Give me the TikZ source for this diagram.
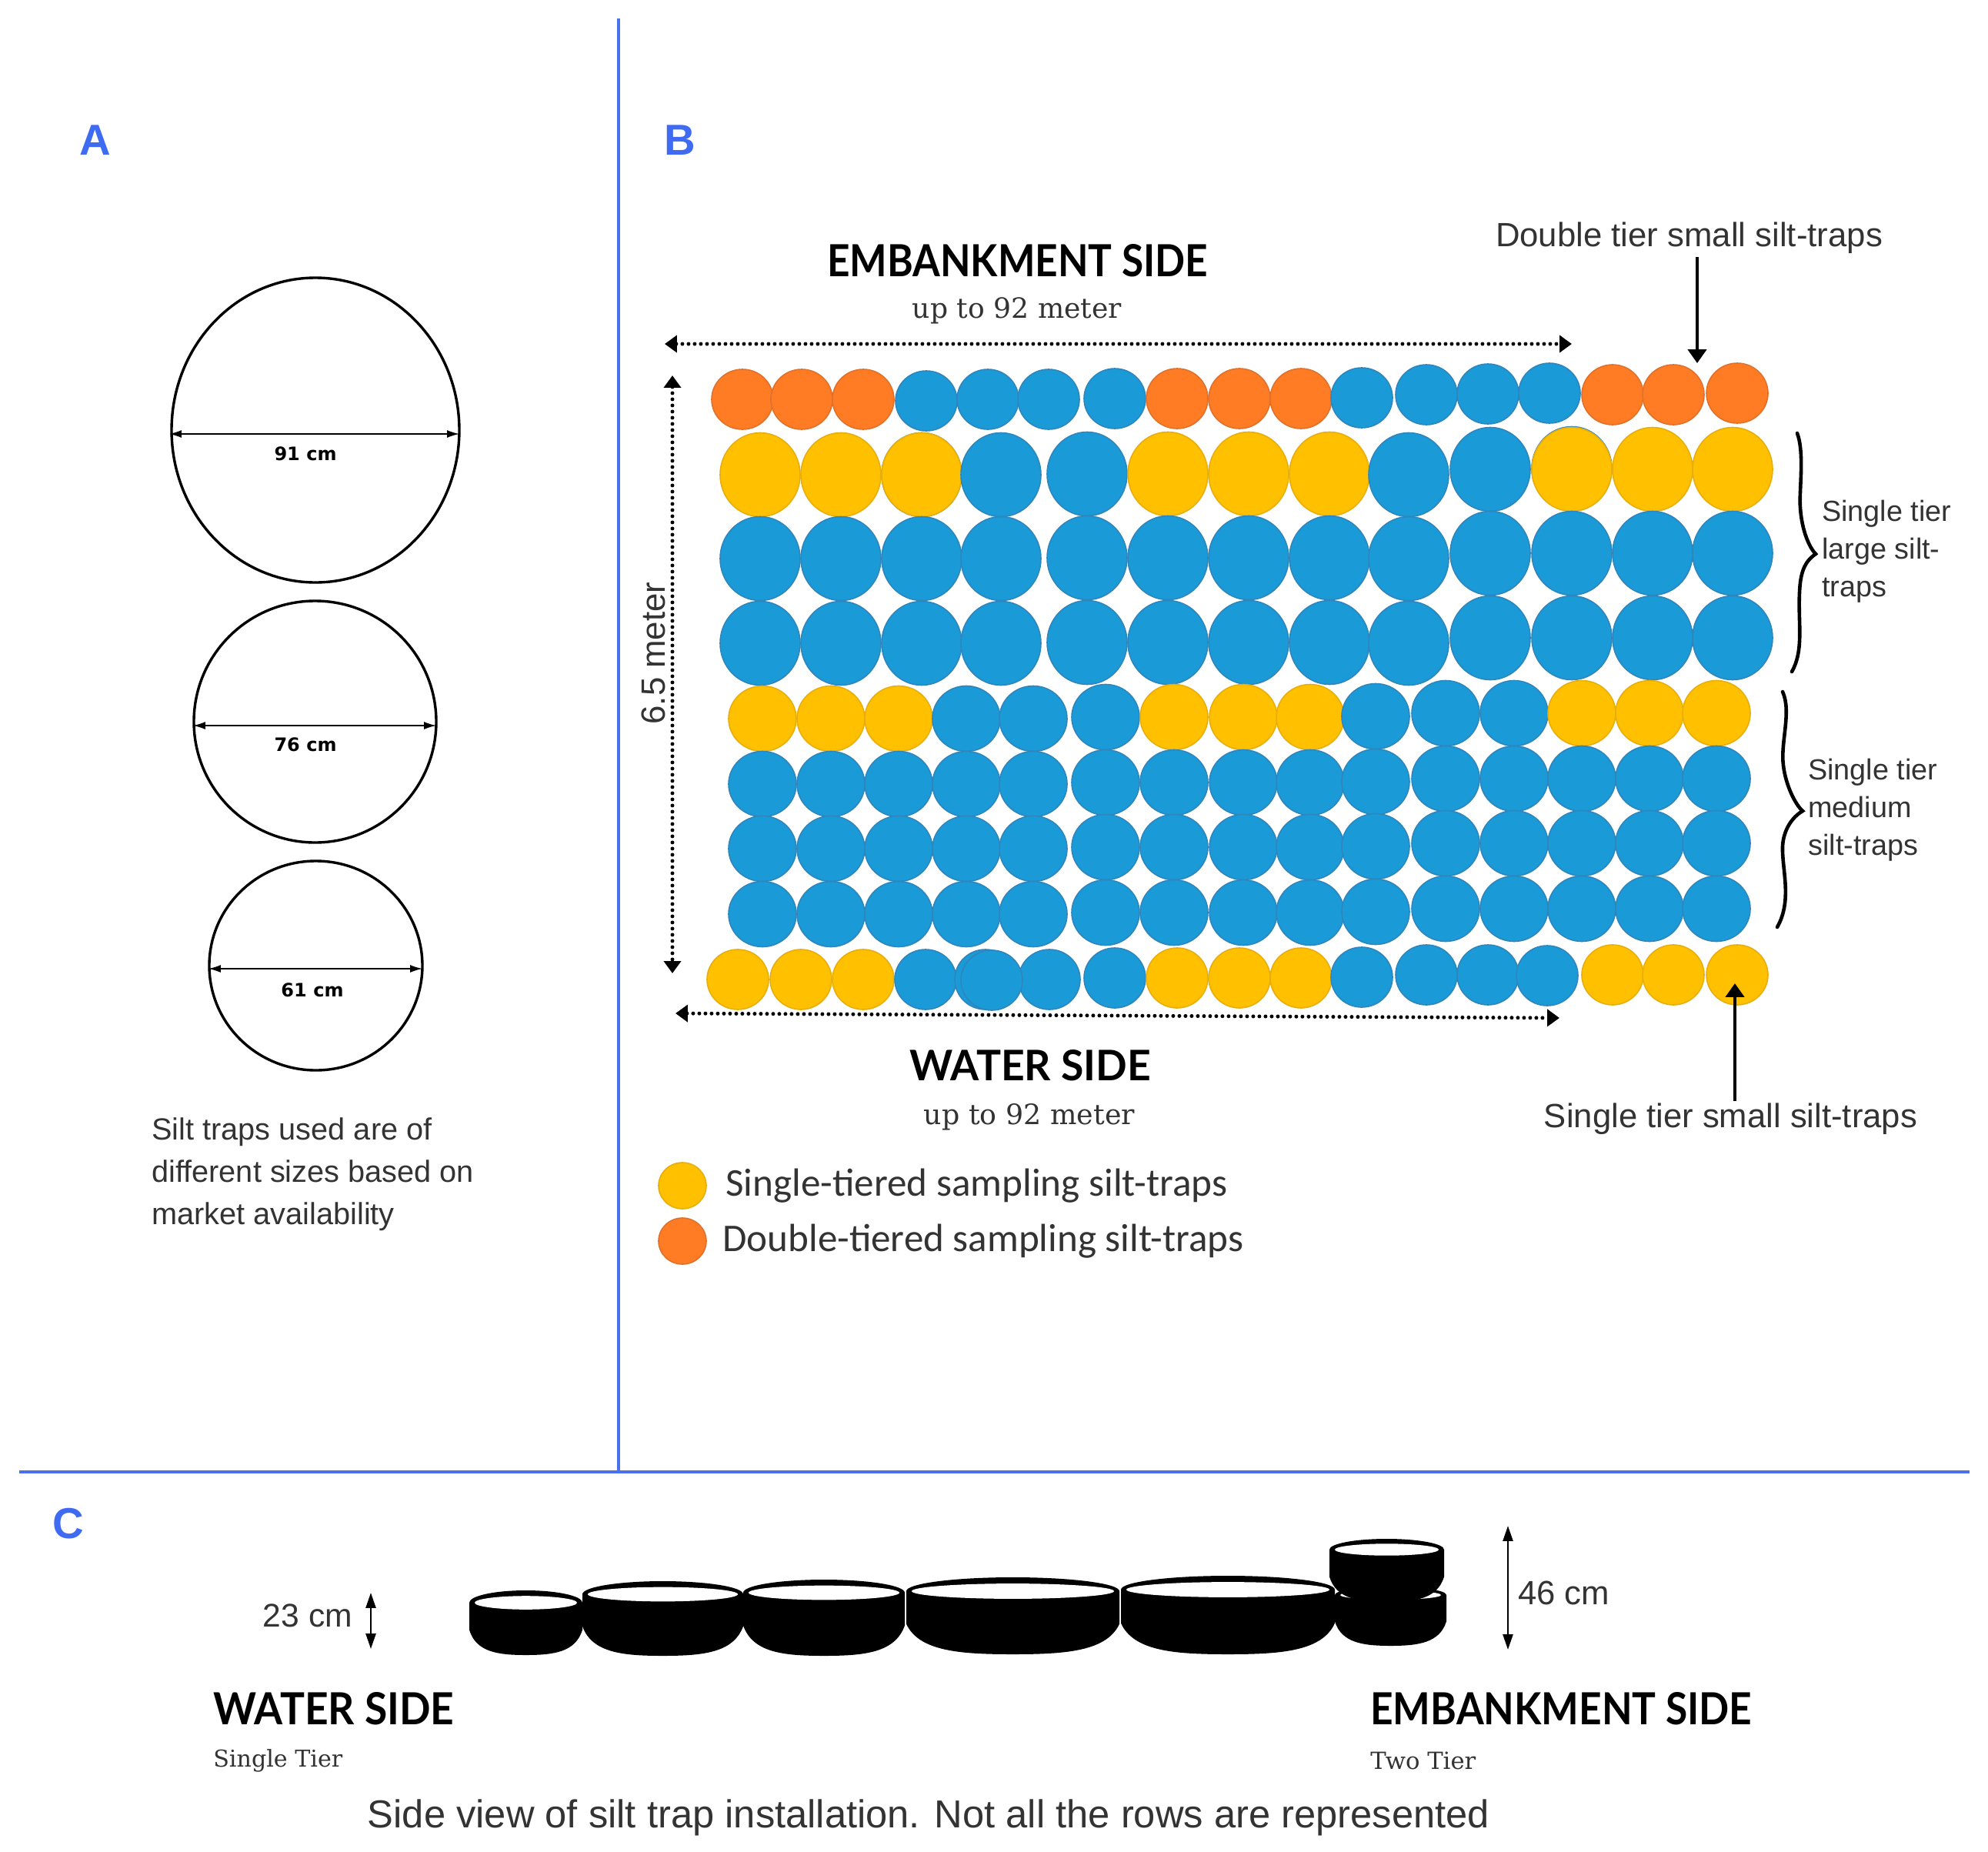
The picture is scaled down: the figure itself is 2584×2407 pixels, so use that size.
\documentclass[tikz,border=0pt]{standalone}
\usepackage{fontspec}
\usetikzlibrary{arrows.meta,shapes.geometric}
\setmainfont{Liberation Sans}
\newfontfamily\headf{Lato}
\newfontfamily\slabf{DejaVu Serif}
\newfontfamily\calf{Carlito}
\newfontfamily\dejaf{DejaVu Sans}
\newdimen\pxu \pxu=0.02cm
\newcommand\fitw[2]{\resizebox{#1\pxu}{!}{#2}}
\newcommand\fitwh[3]{\resizebox{#1\pxu}{#2\pxu}{#3}}
\definecolor{cB}{HTML}{1B9AD8}\definecolor{eB}{HTML}{2F86BC}
\definecolor{cY}{HTML}{FFC000}\definecolor{eY}{HTML}{E8AE0C}
\definecolor{cO}{HTML}{FF7C24}\definecolor{eO}{HTML}{E0702A}
\definecolor{rule}{HTML}{4A70EE}
\definecolor{panel}{HTML}{3E6BF2}
\definecolor{ink}{HTML}{333333}
\tikzset{
  trapsmall/.style={ellipse,inner sep=0pt,line width=1.6\pxu,minimum width=80\pxu,minimum height=78\pxu},
  traplarge/.style={ellipse,inner sep=0pt,line width=1.6\pxu,minimum width=104\pxu,minimum height=109\pxu},
  trapmedium/.style={ellipse,inner sep=0pt,line width=1.6\pxu,minimum width=88\pxu,minimum height=85\pxu},
  outline/.style={ellipse,draw=black,line width=3.4\pxu,inner sep=0pt},
  ruleline/.style={draw=rule,line width=4\pxu},
  dotarrow/.style={line width=5\pxu,line cap=round,dash pattern=on 0pt off 8\pxu,
     {Triangle[length=9.07pt,width=12.47pt]}-{Triangle[length=9.07pt,width=12.47pt]}},
  callout/.style={line width=4.5\pxu,-{Triangle[length=10.2pt,width=13.6pt]}},
  dimthin/.style={line width=1.6\pxu,{Latex[length=9.07pt,width=5.67pt]}-{Latex[length=9.07pt,width=5.67pt]}},
  dimside/.style={line width=2.6\pxu,{Triangle[length=11.34pt,width=7.37pt]}-{Triangle[length=11.34pt,width=7.37pt]}},
  brace/.style={line width=4.6\pxu,line cap=round},
  lab/.style={inner sep=0pt,text=ink},
  panellab/.style={inner sep=0pt,text=panel,font=\bfseries\fontsize{32}{32}\selectfont},
}
\newcommand\bowl[6]{% name, xl, xr, ytop, yrim, ybot
  \pgfmathsetmacro\bxc{(#2+#3)/2}
  \pgfmathsetmacro\bhw{(#3-#2)/2}
  \pgfmathsetmacro\bry{#5-#4}
  \pgfmathsetmacro\bys{#5+0.52*(#6-#5)}
  \fill[black] (#2,#5) -- (#2,\bys)
     .. controls (#2+0.12*\bhw,#6-4) and (\bxc-0.5*\bhw,#6) .. (\bxc,#6)
     .. controls (\bxc+0.5*\bhw,#6) and (#3-0.12*\bhw,#6-4) .. (#3,\bys)
     -- (#3,#5) arc[start angle=0,end angle=180,x radius=\bhw,y radius=-\bry] -- cycle;
  \fill[white] (\bxc,#5) ellipse[x radius={\bhw-7},y radius={\bry*0.55}];
}
\begin{document}
\begin{tikzpicture}[x=0.02cm,y=-0.02cm]
\useasboundingbox (0,0) rectangle (2584,2407);
\fill[white] (0,0) rectangle (2584,2407);
% rules
\coordinate (vt) at (804,24); \coordinate (vb) at (804,1913);
\coordinate (hl) at (25,1913); \coordinate (hr) at (2560,1913);
\draw[ruleline] (vt) -- (vb);
\draw[ruleline] (hl) -- (hr);
\node[panellab] (pA) at (124,182) {A};
\node[panellab] (pB) at (884,182) {B};
\node[panellab] (pC) at (89,1980) {C};
% panel A
\node[outline,minimum width=374\pxu,minimum height=396\pxu] (c91) at (410,559) {};
\node[outline,minimum width=315\pxu,minimum height=314\pxu] (c76) at (409.5,938) {};
\node[outline,minimum width=277\pxu,minimum height=272\pxu] (c61) at (410.5,1255) {};
\coordinate (a91l) at (220,564); \coordinate (a91r) at (597,564);
\coordinate (a76l) at (251,943); \coordinate (a76r) at (567,943);
\coordinate (a61l) at (271,1259); \coordinate (a61r) at (549,1259);
\draw[dimthin] (a91l) -- (a91r);
\draw[dimthin] (a76l) -- (a76r);
\draw[dimthin] (a61l) -- (a61r);
\node[inner sep=0pt] (t91) at (397,590) {\fitw{81}{\dejaf\bfseries 91 cm}};
\node[inner sep=0pt] (t76) at (397,968) {\fitw{81}{\dejaf\bfseries 76 cm}};
\node[inner sep=0pt] (t61) at (406,1287) {\fitw{81}{\dejaf\bfseries 61 cm}};
\node[lab,anchor=north west,align=left,font=\fontsize{22.6}{31.4}\selectfont] (silt) at (197,1452)
  {Silt traps used are of\\different sizes based on\\market availability};
% panel B traps: top row
\foreach \x/\y/\c [count=\i] in {965/519/O,1042/519/O,1122/519/O,1204/521/B,1284/519/B,1363/519/B,1449/518/B,1530/518/O,1611/518/O,1691/518/O,1770/517/B,1854/513/B,1934/512/B,2014/511/B,2096/513/O,2175/513/O,2258/511/O}
  {\node[trapsmall,fill=c\c,draw=e\c] (top\i) at (\x,\y) {};}
% blue rims behind two yellow traps
\node[traplarge,fill=cB,draw=eB] (under3) at (1198,617) {};
\node[traplarge,fill=cB,draw=eB] (under11) at (2043,609) {};
% large rows
\def\largecols{988/0/Y,1093/0/Y,1198/0/Y,1301/0/B,1413/-1/B,1518/-1/Y,1623/-1/Y,1728/-1/Y,1831/0/B,1937/-7/B,2043/-7/Y,2148/-7/Y,2252/-7/Y}
\foreach \x/\d/\c [count=\i] in \largecols
  {\node[traplarge,fill=c\c,draw=e\c] (lg2-\i) at (\x,{617+\d}) {};}
\foreach \yy/\r in {726/3,836/4}{
  \foreach \x/\d/\c [count=\i] in \largecols
    {\node[traplarge,fill=cB,draw=eB] (lg\r-\i) at (\x,{\yy+\d}) {};}
}
% medium rows
\def\medcols{991/0/Y,1080/0/Y,1168/0/Y,1256/0/B,1343/0/B,1437/-2/B,1526/-2/Y,1616/-2/Y,1703/-2/Y,1788/-3/B,1879/-7/B,1968/-7/B,2056/-7/Y,2144/-7/Y,2231/-7/Y}
\foreach \x/\d/\c [count=\i] in \medcols
  {\node[trapmedium,fill=c\c,draw=e\c] (md5-\i) at (\x,{934+\d}) {};}
\foreach \yy/\r in {1019/6,1103/7,1188/8}{
  \foreach \x/\d/\c [count=\i] in \medcols
    {\node[trapmedium,fill=cB,draw=eB] (md\r-\i) at (\x,{\yy+\d}) {};}
}
% bottom row
\foreach \x/\y/\c [count=\i] in {959/1273/Y,1041/1273/Y,1122/1273/Y,1203/1273/B,1281/1273/B,1364/1273/B,1289/1274/B,1449/1271/B,1530/1271/Y,1611/1271/Y,1691/1271/Y,1770/1270/B,1854/1267/B,1934/1267/B,2011/1268/B,2096/1267/Y,2175/1267/Y,2258/1267/Y}
  {\node[trapsmall,fill=c\c,draw=e\c] (bot\i) at (\x,\y) {};}
% dimension arrows
\coordinate (dt1) at (864,447); \coordinate (dt2) at (2043,447);
\coordinate (dv1) at (874,488); \coordinate (dv2) at (874,1265);
\coordinate (db1) at (878,1317); \coordinate (db2) at (2027,1323);
\draw[dotarrow] (dt1) -- (dt2);
\draw[dotarrow] (dv1) -- (dv2);
\draw[dotarrow] (db1) -- (db2);
\coordinate (ca1) at (2206,334); \coordinate (ca2) at (2206,472);
\coordinate (cb1) at (2255,1431); \coordinate (cb2) at (2255,1278);
\draw[callout] (ca1) -- (ca2);
\draw[callout] (cb1) -- (cb2);
% braces
\draw[brace] (2336,563) .. controls (2346,590) and (2338,640) .. (2340,660)
  .. controls (2342,690) and (2352,712) .. (2360,720)
  .. controls (2345,730) and (2340,745) .. (2339,770)
  .. controls (2337,810) and (2345,845) .. (2329,873);
\draw[brace] (2317,899) .. controls (2329,925) and (2314,965) .. (2318,995)
  .. controls (2321,1020) and (2333,1045) .. (2343,1054)
  .. controls (2328,1063) and (2318,1080) .. (2317,1100)
  .. controls (2316,1130) and (2330,1170) .. (2310,1205);
% panel B text
\node[inner sep=0pt] (embB) at (1322.5,339) {\fitwh{495}{42}{\headf\bfseries EMBANKMENT SIDE}};
\node[lab] (upB1) at (1322,404) {\fitw{272}{\slabf up to 92 meter}};
\node[inner sep=0pt] (watB) at (1339,1385) {\fitwh{314}{40}{\headf\bfseries WATER SIDE}};
\node[lab] (upB2) at (1338,1452) {\fitw{274}{\slabf up to 92 meter}};
\node[lab,rotate=90] (h65) at (849,849) {\fitw{185}{6.5 meter}};
\node[lab] (dbl) at (2195.5,309) {\fitw{503}{Double tier small silt-traps}};
\node[lab] (sgl) at (2249.5,1454) {\fitw{485}{Single tier small silt-traps}};
\node[lab,anchor=west,align=left,font=\fontsize{21.5}{28}\selectfont] (lgl) at (2368,717) {Single tier\\large silt-\\traps};
\node[lab,anchor=west,align=left,font=\fontsize{21.5}{28}\selectfont] (mdl) at (2350,1053) {Single tier\\medium\\silt-traps};
% legend
\node[ellipse,inner sep=0pt,fill=cY,draw=eY,line width=1.6\pxu,minimum width=62\pxu,minimum height=60\pxu] (legY) at (887,1541) {};
\node[ellipse,inner sep=0pt,fill=cO,draw=eO,line width=1.6\pxu,minimum width=62\pxu,minimum height=60\pxu] (legO) at (887,1613) {};
\node[lab,anchor=west] (legYt) at (943,1541) {\fitw{652}{\calf Single-tiered sampling silt-traps}};
\node[lab,anchor=west] (legOt) at (939,1613) {\fitw{677}{\calf Double-tiered sampling silt-traps}};
% panel C bowls
\bowl{b1}{610}{757}{2067}{2083}{2151}
\bowl{b2}{757}{966}{2055}{2072}{2152}
\bowl{b3}{966}{1176}{2053}{2070}{2152}
\bowl{b4}{1178}{1455}{2050}{2068}{2150}
\bowl{b5}{1457}{1735}{2048}{2066}{2150}
\bowl{b7}{1735}{1880}{2062}{2073}{2139}
\bowl{b6}{1728}{1877}{2000}{2014}{2082}
\coordinate (d23a) at (482,2070); \coordinate (d23b) at (482,2143);
\coordinate (d46a) at (1960,1983); \coordinate (d46b) at (1960,2144);
\draw[dimside] (d23a) -- (d23b);
\draw[dimside] (d46a) -- (d46b);
\node[lab] (t23) at (400,2100) {\fitw{116}{23 cm}};
\node[lab] (t46) at (2032.5,2070) {\fitw{119}{46 cm}};
\node[inner sep=0pt,anchor=west] (watC) at (277,2221) {\fitwh{313}{42}{\headf\bfseries WATER SIDE}};
\node[inner sep=0pt,anchor=west] (embC) at (1781,2221) {\fitwh{496}{42}{\headf\bfseries EMBANKMENT SIDE}};
\node[lab,anchor=west] (st) at (277,2288) {\fitw{168}{\slabf Single Tier}};
\node[lab,anchor=west] (tt) at (1781,2288) {\fitw{137}{\slabf Two Tier}};
\node[lab] (cap) at (1207,2362) {\fitw{1458}{Side view of silt trap installation. Not all the rows are represented}};
\end{tikzpicture}
\end{document}
